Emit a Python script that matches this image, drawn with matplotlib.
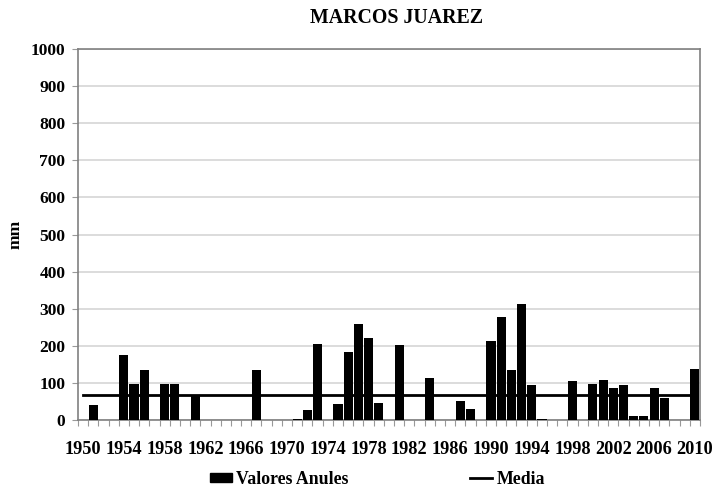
import matplotlib
matplotlib.use("Agg")
import matplotlib.pyplot as plt
import numpy as np
from matplotlib.patches import Patch
from matplotlib.lines import Line2D

years = list(range(1950, 2011))
values = [0, 41, 0, 0, 174, 98, 134, 0, 96, 96,
          0, 68, 0, 0, 0, 0, 0, 134, 0, 0,
          0, 2, 27, 205, 0, 43, 183, 260, 220, 47,
          0, 203, 0, 0, 113, 0, 0, 51, 30, 0,
          214, 279, 134, 313, 95, 2, 0, 1, 104, 1,
          97, 108, 86, 94, 10, 12, 87, 59, 1, 1,
          138]
media = 67
title = "MARCOS JUAREZ"
ylabel = "mm"
yticks = [0, 100, 200, 300, 400, 500, 600, 700, 800, 900, 1000]
label_years = list(range(1950, 2011, 4))

plt.rcParams['font.family'] = ['Liberation Serif', 'DejaVu Serif']
plt.rcParams['font.weight'] = 'bold'

fig = plt.figure(figsize=(7.15, 4.92), dpi=100)
ax = fig.add_axes([0.109, 0.1463, 0.870, 0.754])

x = np.arange(len(years))
ax.bar(x, values, width=0.9, color='black', zorder=3)
ax.plot([x[0], x[-1]], [media, media], color='black', linewidth=2.0, zorder=4)

ax.set_xlim(-0.5, len(years) - 0.5)
ax.set_ylim(0, 1000)
ax.set_yticks(yticks)
ax.set_yticklabels([str(v) for v in yticks], fontsize=12.6, fontweight='bold')
ax.yaxis.grid(True, color='#d9d9d9', linewidth=1.3, zorder=0)
ax.set_axisbelow(True)

pos = [years.index(y) for y in label_years]
ax.set_xticks(pos)
ax.set_xticklabels([str(y) for y in label_years], fontsize=13.2, fontweight='bold')
ax.tick_params(axis='x', which='major', length=0, pad=15)
ax.set_xticks(np.arange(-0.5, len(years), 1.0), minor=True)
ax.tick_params(axis='x', which='minor', length=4, color='#999999', width=0.8)
ax.tick_params(axis='y', length=4, color='#999999', width=0.8, pad=5)

for s in ax.spines.values():
    s.set_color('#808080')
    s.set_linewidth(1.2)

ax.set_ylabel(ylabel, fontsize=12.6, fontweight='bold')
ax.yaxis.set_label_coords(-0.088, 0.50)
fig.text(397 / 715, 1 - 18 / 492, title, fontsize=14.3, fontweight='bold',
         ha='center', va='center')

handles = [Patch(facecolor='black', edgecolor='black', label='Valores Anules'),
           Line2D([0], [0], color='black', linewidth=2.0, label='Media')]
fig.legend(handles=handles, loc='center', bbox_to_anchor=(0.528, 1 - 479 / 492), ncol=2,
           frameon=False, handlelength=1.24, handleheight=0.4, handletextpad=0.25,
           columnspacing=6.85, prop={'weight': 'bold', 'size': 12.8})

fig.savefig("out.png", dpi=100)
